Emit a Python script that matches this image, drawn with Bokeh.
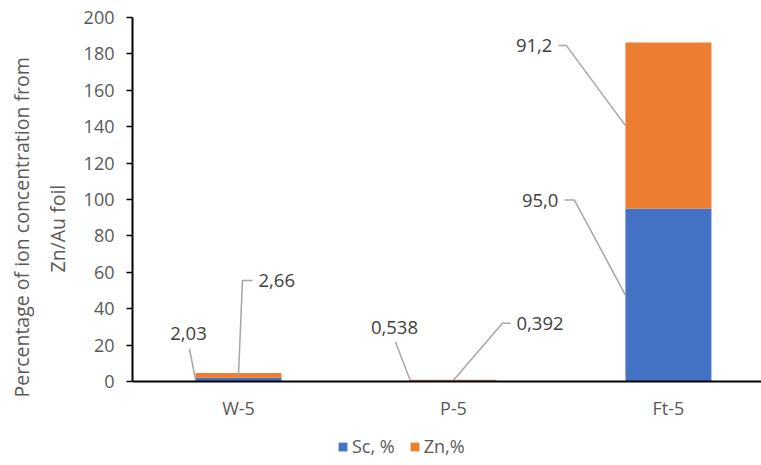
from bokeh.plotting import figure
from bokeh.models import Range1d, FixedTicker, Legend, LegendItem, ColumnDataSource, Title
from bokeh.embed import file_html
from bokeh.resources import INLINE
from bokeh.core.properties import value

# ---------------- data ----------------
categories = ["W-5", "P-5", "Ft-5"]
sc_values = [2.03, 0.538, 95.0]
zn_values = [2.66, 0.392, 91.2]
sc_labels = ["2,03", "0,538", "95,0"]
zn_labels = ["2,66", "0,392", "91,2"]
y_ticks = [0, 20, 40, 60, 80, 100, 120, 140, 160, 180, 200]
series_names = ["Sc, %", "Zn,%"]
y_title_lines = ["Percentage of ion concentration from", "Zn/Au foil"]

# ---------------- layout / style ----------------
W, H = 761, 465
LEFT, TOP, RIGHT = 132, 17, 0
BELOW = 84            # room under the value axis (labels + legend)
X_START, X_END = -0.493, 2.433
Y_MIN, Y_MAX = 0, 200
BAR_W = 0.4
BLUE, ORANGE = "#4472C4", "#ED7D31"
FONT = "Open Sans"
FS = "18.5px"
FS_TICK = "18px"
FS_TITLE = "19.5px"
LEADER = "#A6A6A6"

fw = W - LEFT - RIGHT
fh_axis = H - TOP - BELOW
ppx = fw / (X_END - X_START)
ppy = fh_axis / (Y_MAX - Y_MIN)
Y_START = Y_MIN - BELOW / ppy

p = figure(width=W, height=H, output_backend="svg", toolbar_location=None,
           x_range=Range1d(X_START, X_END), y_range=Range1d(Y_START, Y_MAX),
           min_border_left=LEFT, min_border_top=TOP, min_border_bottom=0,
           min_border_right=RIGHT)
p.outline_line_color = None
p.xgrid.visible = False
p.ygrid.visible = False
p.background_fill_color = "white"
p.border_fill_color = "white"

xs = list(range(len(categories)))
tops = [s + z for s, z in zip(sc_values, zn_values)]
src = ColumnDataSource(dict(x=xs, sc=sc_values, zn=zn_values, top=tops,
                            zero=[0] * len(xs)))
r_sc = p.vbar(x="x", bottom="zero", top="sc", width=BAR_W, source=src,
              fill_color=BLUE, line_color=None)
r_zn = p.vbar(x="x", bottom="sc", top="top", width=BAR_W, source=src,
              fill_color=ORANGE, line_color=None)

# ---------------- leader-line callouts ----------------
sc_style = [("left", -6, 31, 0, "above"), ("left", -15, 39, 0, "above"), ("left", -51, 95, -10, "side")]
zn_style = [("center", 4, 95, 10, "side"), ("center", 49, 57, 8, "side"), ("left", -59, 80, -8, "side")]

lx, ly, tx, ty, tt, ta = [], [], [], [], [], []

def add_callout(i, ymid, label, style):
    anchor, dx, dy, tail, mode = style
    ax = xs[i] - BAR_W / 2 if anchor == "left" else xs[i]
    ay = ymid
    ex = ax + dx / ppx
    ey = ay + dy / ppy
    px_ = [ax, ex]
    py_ = [ay, ey]
    if tail:
        px_.append(ex + tail / ppx)
        py_.append(ey)
    lx.append(px_)
    ly.append(py_)
    if mode == "above":
        tx.append(ex - 1 / ppx)
        ty.append(ey + 15 / ppy)
        ta.append("center")
    else:
        endx = ex + tail / ppx
        if tail > 0:
            tx.append(endx + 6 / ppx)
            ta.append("left")
        else:
            tx.append(endx - 6 / ppx)
            ta.append("right")
        ty.append(ey)
    tt.append(label)

for i in range(len(xs)):
    add_callout(i, sc_values[i] / 2, sc_labels[i], sc_style[i])
    add_callout(i, sc_values[i] + zn_values[i] / 2, zn_labels[i], zn_style[i])

p.multi_line(xs=lx, ys=ly, line_color=LEADER, line_width=1.5)
p.text(x=tx, y=ty, text=tt, text_align=ta, text_baseline="middle",
       text_font=value(FONT), text_font_size=FS, text_color="#404040")

# ---------------- axes ----------------
p.yaxis.ticker = FixedTicker(ticks=y_ticks)
p.yaxis.bounds = (Y_MIN, Y_MAX)
p.yaxis.minor_tick_line_color = None
p.yaxis.major_tick_out = 6
p.yaxis.major_tick_in = 0
p.yaxis.major_tick_line_color = "black"
p.yaxis.major_tick_line_width = 1.5
p.yaxis.axis_line_color = "black"
p.yaxis.axis_line_width = 2
p.yaxis.major_label_standoff = 12
p.yaxis.major_label_text_font = FONT
p.yaxis.major_label_text_font_size = FS_TICK
p.yaxis.major_label_text_color = "#595959"

# y-axis title: two lines, each a Title in the left panel (bottom-anchored offsets)
title_offsets = [68, 193]       # line 1, line 2 (px from frame bottom)
title_standoffs = [-7, 20]
for k in (1, 0):
    t = Title(text=y_title_lines[k], align="left", offset=title_offsets[k],
              standoff=title_standoffs[k], text_font=FONT,
              text_font_size=FS_TITLE, text_font_style="normal",
              text_color="#595959")
    p.add_layout(t, "left")

p.xaxis.fixed_location = 0
p.xaxis.ticker = FixedTicker(ticks=xs)
p.xaxis.major_label_overrides = {i: c for i, c in enumerate(categories)}
p.xaxis.minor_tick_line_color = None
p.xaxis.major_tick_line_color = None
p.xaxis.major_tick_out = 0
p.xaxis.major_tick_in = 0
p.xaxis.axis_line_color = "black"
p.xaxis.axis_line_width = 2
p.xaxis.major_label_standoff = 14
p.xaxis.major_label_text_font = FONT
p.xaxis.major_label_text_font_size = FS_TICK
p.xaxis.major_label_text_color = "#595959"

# ---------------- legend ----------------
legend = Legend(items=[LegendItem(label=series_names[0], renderers=[r_sc]),
                       LegendItem(label=series_names[1], renderers=[r_zn])],
                orientation="horizontal", location=(205, 7),
                glyph_width=11, glyph_height=11, label_standoff=4, spacing=14,
                padding=0, margin=0, border_line_color=None,
                background_fill_alpha=0, label_text_font=FONT,
                label_text_font_size=FS_TICK, label_text_color="#595959")
p.add_layout(legend, "center")

open("out.html", "w").write(file_html(p, INLINE))
